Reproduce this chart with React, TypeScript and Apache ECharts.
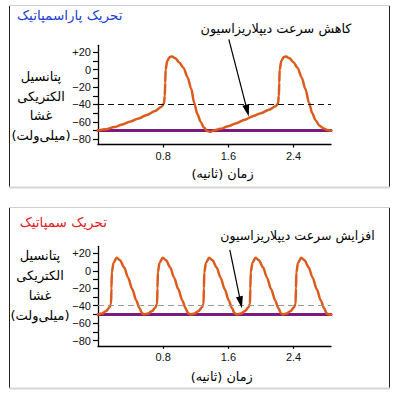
import React, { useEffect, useRef } from "react";
import * as echarts from "echarts";

// ---------- data ----------
// Parasympathetic panel (top): time in s, membrane potential in mV
const topTime = [
  0, 0.1, 0.2, 0.3, 0.4, 0.5, 0.6, 0.7, 0.78, 0.81, 0.82, 0.825, 0.83, 0.85, 0.88, 0.91, 0.95, 1.0,
  1.05, 1.1, 1.145, 1.18, 1.22, 1.26, 1.3, 1.34, 1.38, 1.42, 1.5, 1.6, 1.7, 1.8, 1.9, 2.0, 2.1, 2.18,
  2.21, 2.22, 2.225, 2.23, 2.25, 2.28, 2.31, 2.35, 2.4, 2.45, 2.5, 2.545, 2.59, 2.63, 2.67, 2.72,
  2.77, 2.82, 2.86,
];
const topVoltage = [
  -70, -68.5, -66, -63, -59.5, -56, -52, -47.5, -42.5, -39, -30, -15, 0, 10, 14.5, 15, 13, 8,
  2, -9, -22, -38, -51, -60, -66.5, -70.5, -71.5, -70, -68, -65, -61.5, -57.5, -53.5, -50, -46, -42,
  -39, -30, -15, 0, 10, 14.5, 15, 13, 8.5, 2, -9, -22, -38, -50, -58, -64.5,
  -67.5, -69.5, -70,
];
// Sympathetic panel (bottom)
const bottomTime = [
  0, 0.05, 0.1, 0.14, 0.16, 0.165, 0.17, 0.19, 0.23, 0.27, 0.32, 0.37, 0.42, 0.47, 0.51, 0.54,
  0.565, 0.615, 0.665, 0.705, 0.725, 0.73, 0.735, 0.755, 0.795, 0.835, 0.885, 0.935, 0.985, 1.035, 1.075, 1.105,
  1.135, 1.185, 1.235, 1.275, 1.295, 1.3, 1.305, 1.325, 1.365, 1.405, 1.455, 1.505, 1.555, 1.605, 1.645, 1.675,
  1.705, 1.755, 1.805, 1.845, 1.865, 1.87, 1.875, 1.895, 1.935, 1.975, 2.025, 2.075, 2.125, 2.175, 2.215, 2.245,
  2.265, 2.315, 2.365, 2.405, 2.425, 2.43, 2.435, 2.455, 2.495, 2.535, 2.585, 2.635, 2.685, 2.735, 2.775, 2.805,
  2.83, 2.86,
];
const bottomVoltage = [
  -50, -49, -46, -42, -38, -20, -2, 9, 15, 12, 4, -8, -21, -34, -43, -48.5,
  -50, -49, -46, -42, -38, -20, -2, 9, 15, 12, 4, -8, -21, -34, -43, -48.5,
  -50, -49, -46, -42, -38, -20, -2, 9, 15, 12, 4, -8, -21, -34, -43, -48.5,
  -50, -49, -46, -42, -38, -20, -2, 9, 15, 12, 4, -8, -21, -34, -43, -48.5,
  -50, -49, -46, -42, -38, -20, -2, 9, 15, 12, 4, -8, -21, -34, -43, -48.5,
  -50, -50,
];
const topRest = -70;
const bottomRest = -50;
const threshold = -40;
const timeMax = 2.86;
const voltMin = -86;
const voltMax = 28;
const yLabelValues = [-80, -60, -40, -20, 0, 20];
const yTickValues = [-80, -70, -60, -50, -40, -30, -20, -10, 0, 10, 20];
const xLabelValues = [0.8, 1.6, 2.4];
// arrows: [start, tip] in (time, mV)
const topArrow = [[1.606, 34.9], [1.851, -53.8]];
const bottomArrow = [[1.618, 23.8], [1.766, -42.9]];

const topTitle = "تحریک پاراسمپاتیک";
const bottomTitle = "تحریک سمپاتیک";
const topNote = "کاهش سرعت دیپلاریزاسیون";
const bottomNote = "افزایش سرعت دیپلاریزاسیون";
const yName = "پتانسیل\nالکتریکی\nغشا\n(میلی‌ولت)";
const xName = "زمان (ثانیه)";

const ORANGE = "#dc5a1c";
const PURPLE = "#7c1a7e";
const AR_FONT = "DejaVu Sans";
const NUM_FONT = "Liberation Sans";

const zip = (a: number[], b: number[]) => a.map((v, i) => [v, b[i]]);

const fmtY = (v: number) => (v > 0 ? "+" + v : v < 0 ? "\u2212" + Math.abs(v) : "0");

function makeAxes(gridIndex: number) {
  const x = {
    type: "value",
    gridIndex,
    min: 0,
    max: timeMax,
    axisLine: { show: true, onZero: false, lineStyle: { color: "#000", width: 1.3 } },
    axisTick: { show: true, customValues: xLabelValues, length: 3, lineStyle: { color: "#000", width: 1.2 } },
    axisLabel: {
      show: true,
      customValues: xLabelValues,
      margin: 6,
      color: "#111",
      fontSize: 11,
      fontFamily: NUM_FONT,
      formatter: (v: number) => v.toFixed(1),
    },
    splitLine: { show: false },
  };
  const y = {
    type: "value",
    gridIndex,
    min: voltMin,
    max: voltMax,
    axisLine: { show: true, lineStyle: { color: "#000", width: 1.3 } },
    axisTick: { show: true, customValues: yTickValues, length: 5, lineStyle: { color: "#000", width: 1.2 } },
    axisLabel: {
      show: true,
      customValues: yLabelValues,
      margin: 7,
      color: "#111",
      fontSize: 11,
      fontFamily: NUM_FONT,
      formatter: fmtY,
    },
    splitLine: { show: false },
  };
  return { x, y };
}

function text(x: number, y: number, t: string, size: number, color: string, extra: any = {}) {
  return {
    type: "text",
    x,
    y,
    z: 100,
    style: {
      text: t,
      fill: color,
      fontSize: size,
      fontFamily: AR_FONT,
      align: "center",
      verticalAlign: "middle",
      ...extra,
    },
  };
}

function arrowShapes(p0: number[], p1: number[]) {
  const dx = p1[0] - p0[0];
  const dy = p1[1] - p0[1];
  const len = Math.sqrt(dx * dx + dy * dy);
  const ux = dx / len;
  const uy = dy / len;
  const headLen = 12;
  const halfW = 3.5;
  const bx = p1[0] - ux * headLen;
  const by = p1[1] - uy * headLen;
  return [
    {
      type: "line",
      z: 90,
      shape: { x1: p0[0], y1: p0[1], x2: bx + ux * 2, y2: by + uy * 2 },
      style: { stroke: "#000", lineWidth: 1.2 },
    },
    {
      type: "polygon",
      z: 90,
      shape: {
        points: [
          [p1[0], p1[1]],
          [bx - uy * halfW, by + ux * halfW],
          [bx + uy * halfW, by - ux * halfW],
        ],
      },
      style: { fill: "#000" },
    },
  ];
}

export default function App() {
  const ref = useRef<HTMLDivElement>(null);

  useEffect(() => {
    if (!ref.current) return;
    const chart = echarts.init(ref.current, undefined, { renderer: "svg" });
    const a0 = makeAxes(0);
    const a1 = makeAxes(1);
    const med = { fontWeight: 500 };

    const frameGraphics = [
      // top frame
      { type: "line", shape: { x1: 9.5, y1: 5, x2: 9.5, y2: 188 }, style: { stroke: "#222", lineWidth: 1 } },
      { type: "line", shape: { x1: 389.5, y1: 5, x2: 389.5, y2: 188 }, style: { stroke: "#222", lineWidth: 1 } },
      { type: "line", shape: { x1: 9, y1: 5.5, x2: 390, y2: 5.5 }, style: { stroke: "#cfcfcf", lineWidth: 1 } },
      { type: "line", shape: { x1: 9, y1: 187.5, x2: 390, y2: 187.5 }, style: { stroke: "#d6d6d6", lineWidth: 2 } },
      // bottom frame
      { type: "line", shape: { x1: 9.5, y1: 207, x2: 9.5, y2: 389 }, style: { stroke: "#222", lineWidth: 1 } },
      { type: "line", shape: { x1: 389.5, y1: 207, x2: 389.5, y2: 389 }, style: { stroke: "#222", lineWidth: 1 } },
      { type: "line", shape: { x1: 9, y1: 207.5, x2: 390, y2: 207.5 }, style: { stroke: "#cfcfcf", lineWidth: 1 } },
      { type: "line", shape: { x1: 9, y1: 388.5, x2: 390, y2: 388.5 }, style: { stroke: "#d6d6d6", lineWidth: 2 } },
      // texts
      text(69.7, 15, topTitle, 13.5, "#1c3fcf"),
      text(63.3, 221.7, bottomTitle, 13.5, "#e02027"),
      text(276, 28.5, topNote, 12.8, "#000", med),
      text(297.5, 235, bottomNote, 12.5, "#000", med),
      text(41, 106, yName, 13, "#000", { lineHeight: 19.5, ...med }),
      text(40, 285.5, yName, 13, "#000", { lineHeight: 20, ...med }),
      text(222.5, 173.5, xName, 12.8, "#000", med),
      text(221.7, 376.7, xName, 12.8, "#000", med),
    ];

    const lineSeries = (xi: number, data: number[][], color: string, width: number, z: number) => ({
      type: "line",
      xAxisIndex: xi,
      yAxisIndex: xi,
      data,
      showSymbol: false,
      symbol: "none",
      clip: false,
      z,
      lineStyle: { color, width, cap: "round", join: "round" },
      silent: true,
    });

    const restSeries = (xi: number, rest: number, dashColor: string) => ({
      ...lineSeries(xi, [[0, rest], [timeMax, rest]], PURPLE, 3, 2),
      smooth: false,
      markLine: {
        silent: true,
        symbol: "none",
        label: { show: false },
        lineStyle: { color: dashColor, width: 1.2, type: [6, 4] },
        data: [{ yAxis: threshold }],
      },
    });

    const option: any = {
      animation: false,
      backgroundColor: "#fff",
      grid: [
        { left: 98, top: 45.3, width: 233, height: 99.2, outerBoundsMode: "none", containLabel: false },
        { left: 98, top: 246.3, width: 233, height: 99.6, outerBoundsMode: "none", containLabel: false },
      ],
      xAxis: [a0.x, a1.x],
      yAxis: [a0.y, a1.y],
      series: [
        restSeries(0, topRest, "#111"),
        { ...lineSeries(0, zip(topTime, topVoltage), ORANGE, 2.5, 3), smooth: 0.3, smoothMonotone: "x" },
        restSeries(1, bottomRest, "#9a9a9a"),
        { ...lineSeries(1, zip(bottomTime, bottomVoltage), ORANGE, 2.5, 3), smooth: 0.3, smoothMonotone: "x" },
      ],
      graphic: frameGraphics,
    };
    chart.setOption(option);

    const tp0 = chart.convertToPixel({ gridIndex: 0 } as any, topArrow[0]) as number[];
    const tp1 = chart.convertToPixel({ gridIndex: 0 } as any, topArrow[1]) as number[];
    const bp0 = chart.convertToPixel({ gridIndex: 1 } as any, bottomArrow[0]) as number[];
    const bp1 = chart.convertToPixel({ gridIndex: 1 } as any, bottomArrow[1]) as number[];
    chart.setOption({
      graphic: [...frameGraphics, ...arrowShapes(tp0, tp1), ...arrowShapes(bp0, bp1)],
    } as any, { replaceMerge: ["graphic"] } as any);

    return () => chart.dispose();
  }, []);

  return (
    <>
      <style>{"#chartbox svg text{unicode-bidi:plaintext}"}</style>
      <div
        id="chartbox"
        ref={ref}
        style={{ position: "absolute", left: 0, top: 0, width: 395, height: 400 }}
      />
    </>
  );
}
